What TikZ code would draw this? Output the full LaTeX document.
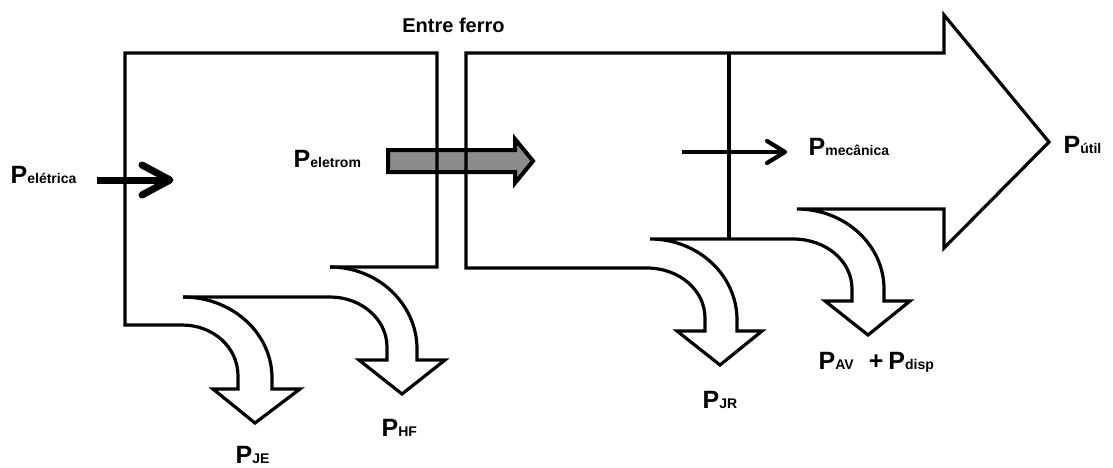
\documentclass[tikz,border=0pt]{standalone}
\usepackage{fontspec}
\setmainfont{Liberation Sans}
\definecolor{flowgray}{RGB}{140,140,140}
% power symbol with a subscript set on the same baseline
\newcommand\pw[1]{{\fontsize{25}{25}\selectfont\bfseries P{\fontsize{14}{14}\selectfont #1}}}
\begin{document}
\begin{tikzpicture}[x=1pt,y=-1pt,
  outline/.style={line width=3.2pt,line join=miter},
  flowin/.style={line width=7pt,line cap=butt},
  flowhead/.style={line width=7pt,line cap=round,line join=round},
  thinflow/.style={line width=4.2pt,line cap=butt},
  thinhead/.style={line width=4.2pt,line cap=round,line join=round},
  label/.style={inner sep=0pt,anchor=base west,font=\bfseries},
  grayarrow/.style={line width=4pt,line join=miter,fill=flowgray,draw=black}]
\useasboundingbox (0,0) rectangle (1113,467);

% air-gap power flow (drawn below the stator and rotor outlines)
\path[grayarrow] (388,150) -- (515,150) -- (515,139) -- (533,161) -- (515,183)
  -- (515,172) -- (388,172) -- cycle;

% stator block with copper losses (JE) and core losses (HF)
\draw[outline] (330,267) -- (437,267) -- (437,53) -- (125,53) -- (125,325) -- (182,325)
  .. controls (213,325) and (238,347) .. (238,376) -- (238,389)
  -- (213,389) -- (255,423) -- (300,389) -- (272,389) -- (272,378)
  .. controls (272,333) and (232,297) .. (183,297);
\draw[outline] (183,297) -- (330,297)
  .. controls (361,297) and (387,319) .. (387,347) -- (387,360)
  -- (359,360) -- (402,394) -- (445,360) -- (417,360) -- (417,349)
  .. controls (417,304) and (378,267) .. (330,267);

% rotor block with rotor losses (JR), friction and stray losses, output arrow
\draw[outline] (650,239) .. controls (698,239) and (737,275) .. (737,320) -- (737,331)
  -- (762,331) -- (720,365) -- (677,331) -- (705,331) -- (705,318)
  .. controls (705,290) and (679,268) .. (647,268) -- (466,268) -- (466,53)
  -- (944,53) -- (944,15) -- (1049,142) -- (944,248) -- (944,209) -- (797,209)
  .. controls (845,209) and (884,245) .. (884,289) -- (884,301)
  -- (910,301) -- (868,335) -- (825,301) -- (852,301) -- (852,289)
  .. controls (852,261) and (826,239) .. (793,239) -- (650,239);
\draw[outline] (729,53) -- (729,239);

% input and mechanical power arrows
\coordinate (inA) at (97,180);
\coordinate (inB) at (170,180);
\draw[flowin] (inA) -- (inB);
\draw[flowhead] (142,165) -- (inB) -- (142,195);
\coordinate (meA) at (682,152);
\coordinate (meB) at (785,152);
\draw[thinflow] (meA) -- (meB);
\draw[thinhead] (767,141) -- (meB) -- (767,163);

% labels
\node[inner sep=0pt,anchor=base,font=\fontsize{20}{20}\selectfont\bfseries] (gap) at (453.5,32) {Entre ferro};
\node[label] (pel) at (10.5,183) {\pw{elétrica}};
\node[label] (pem) at (293.5,167) {\pw{eletrom}};
\node[label] (pme) at (808.5,155) {\pw{mecânica}};
\node[label] (put) at (1063.5,153) {\pw{útil}};
\node[label] (pje) at (235.5,463) {\pw{JE}};
\node[label] (phf) at (381.5,436) {\pw{HF}};
\node[label] (pjr) at (702.5,408) {\pw{JR}};
\node[label] (pav) at (818.5,369) {\pw{AV}\hspace{15pt}{\fontsize{25}{25}\selectfont\bfseries +}\hspace{5pt}\pw{disp}};
\end{tikzpicture}
\end{document}
